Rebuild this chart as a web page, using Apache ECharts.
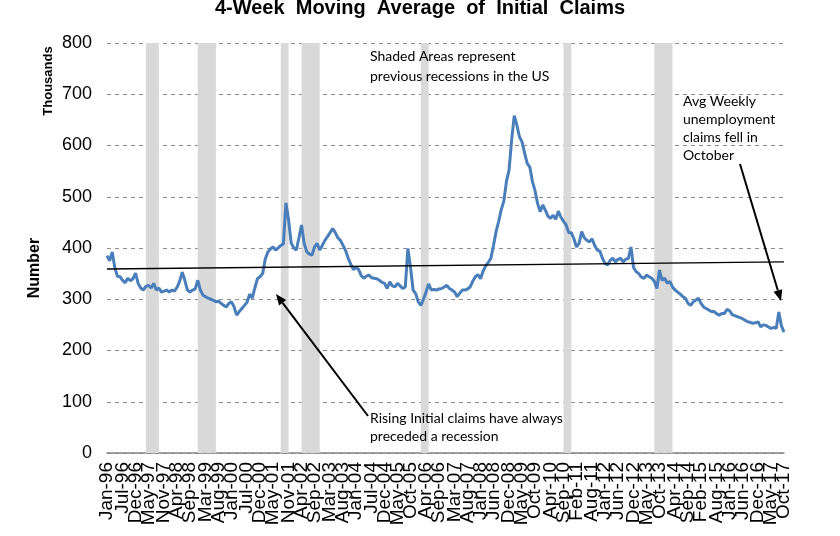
<!DOCTYPE html>
<html>
<head>
<meta charset="utf-8">
<script src="https://cdn.jsdelivr.net/npm/echarts@6/dist/echarts.min.js"></script>
<style>
html,body{margin:0;padding:0;background:#fff;}
#chart{width:840px;height:536px;}
</style>
</head>
<body>
<div id="chart"></div>
<script>
// ---- data ----
const monthNames = ['Jan','Feb','Mar','Apr','May','Jun','Jul','Aug','Sep','Oct','Nov','Dec'];
const firstYear = 1996;
const monthCount = 262; // Jan-96 .. Oct-17
const categories = [];
for (let i = 0; i < monthCount; i++) {
  const y = firstYear + Math.floor(i / 12);
  categories.push(monthNames[i % 12] + '-' + String(y % 100).padStart(2, '0'));
}

// 4-week moving average of initial claims (thousands), monthly readings
const claims = [
  385,375,392,362,345,344,337,332,341,336,340,351, // 1996
  331,322,318,325,327,322,331,318,322,314,316,318, // 1997
  314,318,316,323,335,353,337,318,314,318,320,337, // 1998
  318,308,305,302,300,298,295,296,292,288,285,292, // 1999
  295,285,269,276,282,288,294,310,302,322,340,344, // 2000
  350,378,392,398,402,396,400,405,408,488,455,410, // 2001
  400,396,420,445,409,393,388,386,402,409,396,405, // 2002
  415,422,430,438,430,420,415,405,395,380,368,358, // 2003
  362,358,346,341,345,347,342,341,340,337,333,331, // 2004
  321,334,326,324,331,326,321,324,399,363,318,311, // 2005
  295,288,300,314,330,318,319,318,320,321,324,327, // 2006
  321,318,314,305,312,318,318,320,324,335,344,348, // 2007
  340,355,365,372,380,405,432,452,475,492,530,552, // 2008
  611,658,640,617,607,585,565,558,530,512,487,471, // 2009
  484,474,462,458,464,456,472,460,452,445,430,430, // 2010
  418,402,409,432,420,415,412,418,405,396,394,380, // 2011
  370,367,376,380,373,378,380,373,378,380,402,362, // 2012
  354,350,343,341,347,344,341,335,321,357,337,341, // 2013
  331,335,324,318,314,310,305,302,292,288,295,298, // 2014
  302,292,285,282,279,276,276,272,269,272,272,280, // 2015
  278,270,268,266,264,262,259,256,255,253,254,256, // 2016
  246,250,249,246,243,245,243,275,248,236          // 2017
];

const tickLabels = ['Jan-96','Jul-96','Dec-96','May-97','Nov-97','Apr-98','Sep-98','Mar-99','Aug-99','Jan-00',
  'Jul-00','Dec-00','May-01','Nov-01','Apr-02','Sep-02','Mar-03','Aug-03','Jan-04','Jul-04',
  'Dec-04','May-05','Oct-05','Apr-06','Sep-06','Mar-07','Aug-07','Jan-08','Jun-08','Dec-08',
  'May-09','Oct-09','Apr-10','Sep-10','Feb-11','Aug-11','Jan-12','Jun-12','Dec-12','May-13',
  'Oct-13','Apr-14','Sep-14','Feb-15','Aug-15','Jan-16','Jun-16','Dec-16','May-17','Oct-17'];

// shaded recession bands [start, end]
const recessions = [
  ['Apr-97','Sep-97'],
  ['Dec-98','Jul-99'],
  ['Aug-01','Nov-01'],
  ['Apr-02','Nov-02'],
  ['Feb-06','May-06'],
  ['Sep-10','Dec-10'],
  ['Aug-13','Mar-14']
];

// trend line end values
const trendStart = 359;
const trendEnd = 373;

const yTicks = [0, 800, 100]; // min, max, interval

// ---- chart ----
const chart = echarts.init(document.getElementById('chart'), null, {renderer: 'canvas'});
const tickSet = new Set(tickLabels);

function arrow(x1, y1, x2, y2) {
  const dx = x2 - x1, dy = y2 - y1;
  const len = Math.sqrt(dx * dx + dy * dy);
  const ux = dx / len, uy = dy / len;
  const hl = 11, hw = 4.5;
  const bx = x2 - ux * hl, by = y2 - uy * hl;
  return [
    {type: 'line', silent: true, z: 100, shape: {x1: x1, y1: y1, x2: bx, y2: by},
     style: {stroke: '#000', lineWidth: 2}},
    {type: 'polygon', silent: true, z: 100,
     shape: {points: [[x2, y2], [bx - uy * hw, by + ux * hw], [bx + uy * hw, by - ux * hw]]},
     style: {fill: '#000'}}
  ];
}

const annoFont = '14px Lato';

const option = {
  animation: false,
  backgroundColor: '#fff',
  title: {
    text: '4-Week  Moving  Average  of  Initial  Claims',
    left: 'center',
    top: -2,
    padding: 0,
    textStyle: {fontFamily: 'Liberation Sans, Arial', fontWeight: 'bold', fontSize: 20, color: '#000'}
  },
  grid: {left: 107, right: 56, top: 43, bottom: 83, containLabel: false},
  xAxis: {
    type: 'category',
    data: categories,
    boundaryGap: false,
    axisLine: {show: true, lineStyle: {color: '#868686', width: 1.5}},
    axisTick: {show: false},
    splitLine: {show: false},
    axisLabel: {
      rotate: 90,
      interval: 0,
      formatter: function (val) { return tickSet.has(val) ? val : ''; },
      fontFamily: 'Liberation Sans, Arial',
      fontSize: 19,
      color: '#000',
      margin: 9,
      hideOverlap: false
    }
  },
  yAxis: {
    type: 'value',
    min: yTicks[0],
    max: yTicks[1],
    interval: yTicks[2],
    axisLine: {show: false},
    axisTick: {show: false},
    splitLine: {show: true, lineStyle: {color: '#8c8c8c', type: [4, 4], width: 1}},
    axisLabel: {fontFamily: 'Liberation Sans, Arial', fontSize: 18, color: '#000', margin: 15}
  },
  series: [
    {
      type: 'line',
      data: claims,
      symbol: 'none',
      lineStyle: {color: '#4a7ebb', width: 3},
      itemStyle: {color: '#4a7ebb'},
      z: 3,
      markArea: {
        silent: true,
        itemStyle: {color: '#d9d9d9'},
        data: recessions.map(r => [{xAxis: r[0]}, {xAxis: r[1]}])
      },
      markLine: {
        silent: true,
        symbol: 'none',
        label: {show: false},
        lineStyle: {color: '#000', width: 1.3, type: 'solid'},
        data: [[{coord: [categories[0], trendStart]}, {coord: [categories[categories.length - 1], trendEnd]}]]
      }
    }
  ],
  graphic: [
    {type: 'text', x: 48, y: 81, rotation: Math.PI / 2, silent: true, z: 100,
     style: {text: 'Thousands', font: 'bold 13px Liberation Sans, Arial', fill: '#000', align: 'center', verticalAlign: 'middle'}},
    {type: 'text', x: 35, y: 268, rotation: Math.PI / 2, silent: true, z: 100,
     style: {text: 'Number', font: 'bold 16px Liberation Sans, Arial', fill: '#000', align: 'center', verticalAlign: 'middle'}},
    {type: 'text', x: 370, y: 46, silent: true, z: 100,
     style: {text: 'Shaded Areas represent\nprevious recessions in the US', font: annoFont, lineHeight: 20.5, fill: '#000'}},
    {type: 'text', x: 683, y: 92.5, silent: true, z: 100,
     style: {text: 'Avg Weekly\nunemployment\nclaims fell in\nOctober', font: annoFont, lineHeight: 18, fill: '#000'}},
    {type: 'text', x: 370, y: 410, silent: true, z: 100,
     style: {text: 'Rising Initial claims have always\npreceded a recession', font: annoFont, lineHeight: 17.7, fill: '#000'}}
  ].concat(arrow(368, 416, 276, 294)).concat(arrow(740, 164, 781, 301))
};
chart.setOption(option);
</script>
</body>
</html>
